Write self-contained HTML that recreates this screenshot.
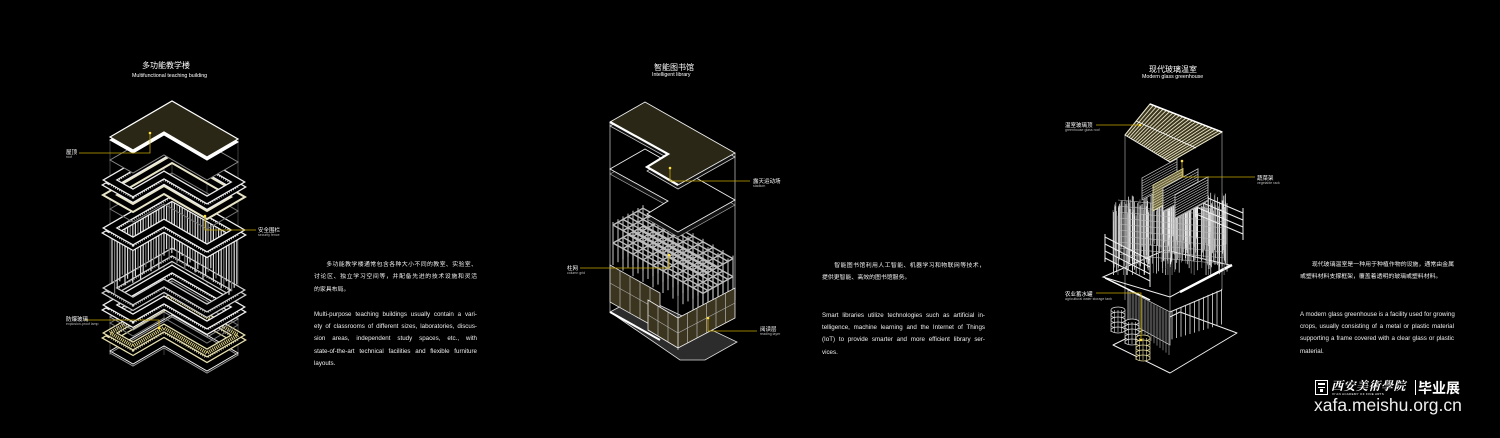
<!DOCTYPE html>
<html><head><meta charset="utf-8">
<style>
html,body{margin:0;padding:0;background:#000;}
body{width:1500px;height:438px;position:relative;overflow:hidden;font-family:"Liberation Sans","Noto Sans CJK SC",sans-serif;color:#fff;}
.t{position:absolute;white-space:nowrap;}
.p{position:absolute;font-size:6.2px;line-height:12.4px;color:#eee;}
.p div{text-align:justify;text-align-last:justify;height:12.4px;white-space:nowrap;overflow:visible;}
.p div.c{font-size:5.9px;}
.p div.l{text-align-last:left;}
svg{position:absolute;left:0;top:0;}
</style></head><body>
<svg id="s" width="1500" height="438" viewBox="0 0 1500 438" xmlns="http://www.w3.org/2000/svg">
<g id="g1"></g><g id="g2"></g><g id="g3"></g>
</svg>

<div class="t" style="left:142px;top:60px;font-size:8px;">多功能教学楼</div>
<div class="t" style="left:132px;top:73px;font-size:5.3px;">Multifunctional teaching building</div>
<div class="t" style="left:654px;top:62px;font-size:8px;">智能图书馆</div>
<div class="t" style="left:652px;top:72px;font-size:5.3px;">Intelligent library</div>
<div class="t" style="left:1149px;top:64px;font-size:8px;">现代玻璃温室</div>
<div class="t" style="left:1142px;top:74px;font-size:5.3px;">Modern glass greenhouse</div>

<div class="t" style="left:66px;top:148px;font-size:5.5px;">屋顶</div>
<div class="t" style="left:66px;top:155px;font-size:3.5px;color:#bbb;">roof</div>
<div class="t" style="left:258px;top:226px;font-size:5.5px;">安全围栏</div>
<div class="t" style="left:258px;top:233px;font-size:3.5px;color:#bbb;">security fence</div>
<div class="t" style="left:66px;top:315px;font-size:5.5px;">防爆玻璃</div>
<div class="t" style="left:66px;top:322px;font-size:3.5px;color:#bbb;">explosion-proof lamp</div>

<div class="t" style="left:753px;top:177px;font-size:5.5px;">露天运动场</div>
<div class="t" style="left:753px;top:184px;font-size:3.5px;color:#bbb;">stadium</div>
<div class="t" style="left:567px;top:264px;font-size:5.5px;">柱网</div>
<div class="t" style="left:567px;top:271px;font-size:3.5px;color:#bbb;">column grid</div>
<div class="t" style="left:760px;top:325px;font-size:5.5px;">阅读层</div>
<div class="t" style="left:760px;top:332px;font-size:3.5px;color:#bbb;">reading layer</div>

<div class="t" style="left:1065px;top:121px;font-size:5.5px;">温室玻璃顶</div>
<div class="t" style="left:1065px;top:128px;font-size:3.5px;color:#bbb;">greenhouse glass roof</div>
<div class="t" style="left:1257px;top:174px;font-size:5.5px;">蔬菜架</div>
<div class="t" style="left:1257px;top:181px;font-size:3.5px;color:#bbb;">vegetable rack</div>
<div class="t" style="left:1065px;top:290px;font-size:5.5px;">农业蓄水罐</div>
<div class="t" style="left:1065px;top:297px;font-size:3.5px;color:#bbb;">agricultural water storage tank</div>

<div class="p" style="left:314px;top:259px;width:163px;">
<div class="c">&emsp;&emsp;多功能教学楼通常包含各种大小不同的教室、实验室、</div>
<div class="c">讨论区、独立学习空间等，并配备先进的技术设施和灵活</div>
<div class="c l">的家具布局。</div>
<div class="l">&nbsp;</div>
<div>Multi-purpose teaching buildings usually contain a vari-</div>
<div>ety of classrooms of different sizes, laboratories, discus-</div>
<div>sion areas, independent study spaces, etc., with</div>
<div>state-of-the-art technical facilities and flexible furniture</div>
<div class="l">layouts.</div>
</div>
<div class="p" style="left:822px;top:260px;width:163px;">
<div class="c">&emsp;&emsp;智能图书馆利用人工智能、机器学习和物联网等技术，</div>
<div class="c l">提供更智能、高效的图书馆服务。</div>
<div class="l">&nbsp;</div>
<div class="l">&nbsp;</div>
<div>Smart libraries utilize technologies such as artificial in-</div>
<div>telligence, machine learning and the Internet of Things</div>
<div>(IoT) to provide smarter and more efficient library ser-</div>
<div class="l">vices.</div>
</div>
<div class="p" style="left:1300px;top:259px;width:154px;">
<div class="c">&emsp;&emsp;现代玻璃温室是一种用于种植作物的设施，通常由金属</div>
<div class="c l">或塑料材料支撑框架，覆盖着透明的玻璃或塑料材料。</div>
<div class="l">&nbsp;</div>
<div class="l">&nbsp;</div>
<div>A modern glass greenhouse is a facility used for growing</div>
<div>crops, usually consisting of a metal or plastic material</div>
<div>supporting a frame covered with a clear glass or plastic</div>
<div class="l">material.</div>
</div>

<div style="position:absolute;left:1315px;top:380px;width:13px;height:15px;border:1.5px solid #fff;box-sizing:border-box;">
 <div style="margin:2px 2px;height:1.5px;background:#fff"></div>
 <div style="margin:1px 2px;height:1.5px;background:#fff"></div>
 <div style="margin:1px 4px;height:3px;background:#fff"></div>
</div>
<div class="t" style="left:1331px;top:377px;font-size:12px;font-family:'Noto Serif CJK SC',serif;font-style:italic;font-weight:bold;letter-spacing:0.5px;">西安美術學院</div>
<div class="t" style="left:1332px;top:392px;font-size:3px;letter-spacing:0.3px;">XI'AN ACADEMY OF FINE ARTS</div>
<div style="position:absolute;left:1415px;top:380px;width:1px;height:15px;background:#fff"></div>
<div class="t" style="left:1418px;top:378px;font-size:14px;font-weight:bold;">毕业展</div>
<div class="t" style="left:1314px;top:395px;font-size:17.5px;color:#eee;">xafa.meishu.org.cn</div>

<script>
(function(){
var NS="http://www.w3.org/2000/svg";
function el(g,tag,a){var e=document.createElementNS(NS,tag);for(var k in a)e.setAttribute(k,a[k]);document.getElementById(g).appendChild(e);return e;}
function L(dy){var p=[[110,137],[172,101],[238,139],[207,157],[164,132],[133,150]];return p.map(function(q){return q[0]+","+(q[1]+dy)}).join(" ");}
var Y="#c8a800";
var g="g1";
[110,164,207,238].forEach(function(x){el(g,"line",{x1:x,y1:140,x2:x,y2:355,stroke:"#666","stroke-width":0.6});});
el(g,"line",{x1:172,y1:101,x2:172,y2:320,stroke:"#666","stroke-width":0.6});
function fence(dy,col){
 el(g,"polygon",{points:L(dy+5),fill:"none",stroke:col,"stroke-width":9,"stroke-linejoin":"miter"});
 el(g,"polygon",{points:L(dy+5),fill:"none",stroke:"#000","stroke-width":6.5});
 el(g,"polygon",{points:L(dy+3),fill:"none",stroke:col,"stroke-width":5,"stroke-dasharray":"0.8 1.6"});
 el(g,"polygon",{points:L(dy),fill:"none",stroke:col,"stroke-width":8});
 el(g,"polygon",{points:L(dy),fill:"none",stroke:"#000","stroke-width":5.5});
}
function plate(dy,fill,st){el(g,"polygon",{points:L(dy),fill:fill,stroke:st,"stroke-width":1});}
plate(214,"#000","#eee");plate(216,"none","#999");
fence(196,"#e8e0b0");
el(g,"polygon",{points:L(196),fill:"none",stroke:"#d8cc80","stroke-width":4,"stroke-dasharray":"1 1"});
plate(180,"none","#999");plate(186,"none","#777");
fence(168,"#f0f0f0");
fence(151,"#cfcfcf");
for(var x=112;x<=237;x+=2.6){
 var ty = x<172 ? 228-(x-110)*36/62 : 192+(x-172)*38/66;
 ty+=8; var len=46+((Math.round(x*10)*7)%17);
 el(g,"line",{x1:x,y1:ty,x2:x,y2:ty+len,stroke:(Math.round(x*10)%3?"#d8d8d8":"#777"),"stroke-width":1.2});
}
fence(91,"#f0f0f0");
plate(72,"none","#777");
el(g,"polygon",{points:L(58),fill:"none",stroke:"#e8e4c8","stroke-width":9});
el(g,"polygon",{points:L(58),fill:"none",stroke:"#000","stroke-width":5});
fence(43,"#eee");
plate(23,"#000","#888");
plate(3,"#fff","#fff");
el(g,"polygon",{points:L(0),fill:"#2a2716",stroke:"#fff","stroke-width":1.2});
el(g,"polyline",{points:"79,153 150,153 150,133",fill:"none",stroke:Y,"stroke-width":0.8});
el(g,"circle",{cx:150,cy:133,r:1.3,fill:"#ffe040"});
el(g,"polyline",{points:"205,216 205,230 256,230",fill:"none",stroke:Y,"stroke-width":0.8});
el(g,"circle",{cx:205,cy:216,r:1.3,fill:"#ffe040"});
el(g,"polyline",{points:"85,320 159,320 159,328",fill:"none",stroke:Y,"stroke-width":0.8});
el(g,"circle",{cx:159,cy:328,r:1.3,fill:"#ffe040"});

g="g2";
function P(pts){return pts.map(function(q){return q[0]+","+q[1]}).join(" ");}
function sh(pts,dy){return pts.map(function(q){return [q[0],q[1]+dy]});}
var R=[[610,122],[645,102],[735,153],[678,185],[647,167],[668,154]];
el(g,"polygon",{points:"610,312 640,296 737,342 705,360 680,360",fill:"#2c2c2c",stroke:"#ddd","stroke-width":0.8});
el(g,"line",{x1:610,y1:312,x2:660,y2:340,stroke:"#fff","stroke-width":2});
el(g,"line",{x1:610,y1:122,x2:610,y2:312,stroke:"#ccc","stroke-width":0.7});
el(g,"line",{x1:678,y1:185,x2:678,y2:350,stroke:"#ccc","stroke-width":0.7});
el(g,"line",{x1:735,y1:153,x2:735,y2:300,stroke:"#ccc","stroke-width":0.7});
el(g,"polygon",{points:"610,265 660,293 660,330 610,302",fill:"#3b3520",stroke:"#ddd","stroke-width":0.8});
for(var i=1;i<5;i++){var x=610+i*10;el(g,"line",{x1:x,y1:265+i*5.6,x2:x,y2:302+i*5.6,stroke:"#ccc","stroke-width":0.6});}
el(g,"line",{x1:610,y1:283,x2:660,y2:311,stroke:"#aaa","stroke-width":0.6});
var gc="#bdbdbd";
for(var i=0;i<=6;i++)for(var j=0;j<=9;j++){
 var x=613+5*i+10*j, y=225-2.8*i+5.6*j;
 el(g,"line",{x1:x,y1:y-3,x2:x,y2:y+40,stroke:"#9a9a9a","stroke-width":1.3});
}
for(var lv=0;lv<2;lv++){
 var oy=lv*18;
 for(var i=0;i<=6;i++){var sx=613+5*i,sy=225-2.8*i+oy;el(g,"line",{x1:sx,y1:sy,x2:sx+90,y2:sy+50.4,stroke:gc,"stroke-width":1.4});}
 for(var j=0;j<=9;j++){var sx=613+10*j,sy=225+5.6*j+oy;el(g,"line",{x1:sx,y1:sy,x2:sx+30,y2:sy-16.8,stroke:gc,"stroke-width":1.4});}
}
el(g,"polygon",{points:"648,300 678,318 735,288 735,318 678,348 648,330",fill:"#3b3520",stroke:"#eee","stroke-width":0.8});
el(g,"line",{x1:678,y1:318,x2:678,y2:348,stroke:"#eee","stroke-width":0.8});
for(var i=1;i<3;i++){el(g,"line",{x1:648+i*10,y1:300+i*6,x2:648+i*10,y2:330+i*6,stroke:"#ccc","stroke-width":0.6});}
for(var i=1;i<6;i++){el(g,"line",{x1:678+i*9.5,y1:318-i*5,x2:678+i*9.5,y2:348-i*5,stroke:"#ccc","stroke-width":0.6});}
el(g,"polyline",{points:"648,315 678,333 735,303",fill:"none",stroke:"#aaa","stroke-width":0.6});
var R2=sh(R,47);
el(g,"polygon",{points:P(sh(R2,5)),fill:"#111",stroke:"#aaa","stroke-width":0.7});
el(g,"polygon",{points:P(R2),fill:"#000",stroke:"#eee","stroke-width":0.9});
el(g,"polygon",{points:P(sh(R,4)),fill:"#111",stroke:"#ccc","stroke-width":0.8});
el(g,"polygon",{points:P(R),fill:"#2a2716",stroke:"#eee","stroke-width":0.9});
el(g,"polyline",{points:"610,122 668,154 647,167 678,185",fill:"none",stroke:"#fff","stroke-width":2.2});
el(g,"polyline",{points:"670,168 670,181 750,181",fill:"none",stroke:Y,"stroke-width":0.8});
el(g,"circle",{cx:670,cy:168,r:1.3,fill:"#ffe040"});
el(g,"polyline",{points:"580,268 669,268 669,255",fill:"none",stroke:Y,"stroke-width":0.8});
el(g,"circle",{cx:669,cy:255,r:1.3,fill:"#ffe040"});
el(g,"polyline",{points:"708,318 708,331 757,331",fill:"none",stroke:Y,"stroke-width":0.8});
el(g,"circle",{cx:708,cy:318,r:1.3,fill:"#ffe040"});

g="g3";
el(g,"line",{x1:1125,y1:135,x2:1125,y2:300,stroke:"#bbb","stroke-width":0.6});
el(g,"line",{x1:1170,y1:162,x2:1170,y2:345,stroke:"#bbb","stroke-width":0.6});
el(g,"line",{x1:1222,y1:132,x2:1222,y2:290,stroke:"#bbb","stroke-width":0.6});
el(g,"polygon",{points:"1113,345 1180,312 1237,333 1170,373",fill:"#000",stroke:"#eee","stroke-width":1,"stroke-linejoin":"round"});
el(g,"polygon",{points:"1128,290 1170,312 1170,345 1128,322",fill:"#1a1a1a",stroke:"#ddd","stroke-width":0.7});
for(var x=1130;x<1170;x+=3)el(g,"line",{x1:x,y1:291+(x-1128)*0.52,x2:x,y2:323+(x-1128)*0.78,stroke:"#999","stroke-width":0.7});
for(var x=1172;x<1222;x+=4.5)el(g,"line",{x1:x,y1:312-(x-1170)*0.45,x2:x,y2:340-(x-1170)*0.3,stroke:"#ddd","stroke-width":0.8});
el(g,"polyline",{points:"1170,312 1222,290",fill:"none",stroke:"#ddd","stroke-width":1.2});
el(g,"polygon",{points:"1103,277 1165,250 1230,265 1170,297",fill:"none",stroke:"#eee","stroke-width":1});
el(g,"line",{x1:1180,y1:292,x2:1232,y2:265,stroke:"#fff","stroke-width":2.5});
el(g,"line",{x1:1105,y1:278,x2:1150,y2:300,stroke:"#fff","stroke-width":1.5});
var s=7;function rnd(){s=(s*9301+49297)%233280;return s/233280;}
for(var i=0;i<260;i++){
 var x=1113+rnd()*115, t=188+rnd()*22+(x<1170?(1170-x)*0.2:(x-1170)*0.1), l=40+rnd()*30;
 el(g,"line",{x1:x,y1:t,x2:x,y2:Math.min(t+l,275),stroke:rnd()>0.35?"#eee":"#888","stroke-width":0.7});
}
for(var i=0;i<10;i++){var y=200+i*6;el(g,"line",{x1:1118,y1:y,x2:1225,y2:y+10,stroke:"#bbb","stroke-width":0.6});}
for(var i=0;i<4;i++){el(g,"line",{x1:1196,y1:193+i*7,x2:1243,y2:213+i*7,stroke:"#eee","stroke-width":1});}
el(g,"line",{x1:1196,y1:190,x2:1196,y2:217,stroke:"#eee"});el(g,"line",{x1:1243,y1:208,x2:1243,y2:240,stroke:"#eee"});
for(var i=0;i<4;i++){el(g,"line",{x1:1105,y1:237+i*7,x2:1150,y2:260+i*7,stroke:"#eee","stroke-width":1});}
el(g,"line",{x1:1105,y1:234,x2:1105,y2:262,stroke:"#eee"});el(g,"line",{x1:1150,y1:256,x2:1150,y2:287,stroke:"#eee"});
function rack(x0,y0,w,h,col,fill){
 el(g,"polygon",{points:x0+","+y0+" "+(x0+w)+","+(y0-w*0.55)+" "+(x0+w)+","+(y0-w*0.55+h)+" "+x0+","+(y0+h),fill:fill,stroke:col,"stroke-width":0.8});
 for(var k=3;k<h;k+=2.5)el(g,"line",{x1:x0,y1:y0+k,x2:x0+w,y2:y0-w*0.55+k,stroke:col,"stroke-width":0.6});
}
rack(1142,178,35,22,"#bbb","#000");
rack(1153,185,30,26,"#e8e2b0","#6b6440");
rack(1163,188,35,24,"#ccc","#000");
rack(1175,195,33,24,"#ccc","#000");
function tank(cx,cy,col){
 for(var k=0;k<5;k++)el(g,"ellipse",{cx:cx,cy:cy+k*5,rx:7,ry:3,fill:"#000",stroke:col,"stroke-width":0.7});
 for(var dx=-7;dx<=7;dx+=3.5)el(g,"line",{x1:cx+dx,y1:cy,x2:cx+dx,y2:cy+22,stroke:col,"stroke-width":0.6});
}
tank(1118,310,"#ddd");tank(1132,322,"#ddd");tank(1143,338,"#e8dca0");
el(g,"polygon",{points:"1125,135 1150,104 1222,132 1170,162",fill:"#3a3520",stroke:"#eee","stroke-width":1});
for(var i=0;i<=22;i++){var t=i/22;var ax=1125+45*t,ay=135+27*t,bx=1150+72*t,by=104+28*t;
 el(g,"line",{x1:ax,y1:ay,x2:bx,y2:by,stroke:"#e8e4c0","stroke-width":0.9});}
el(g,"line",{x1:1136,y1:121,x2:1196,y2:148,stroke:"#fff","stroke-width":0.8});
el(g,"line",{x1:1150,y1:104,x2:1222,y2:132,stroke:"#fff","stroke-width":1.5});
el(g,"line",{x1:1096,y1:125,x2:1140,y2:125,stroke:Y,"stroke-width":0.8});
el(g,"circle",{cx:1140,cy:125,r:1.3,fill:"#ffe040"});
el(g,"polyline",{points:"1182,161 1182,177 1255,177",fill:"none",stroke:Y,"stroke-width":0.8});
el(g,"circle",{cx:1182,cy:161,r:1.3,fill:"#ffe040"});
el(g,"polyline",{points:"1096,293 1141,293 1141,340",fill:"none",stroke:Y,"stroke-width":0.8});
el(g,"circle",{cx:1141,cy:340,r:1.3,fill:"#ffe040"});
})();
</script>
</body></html>
